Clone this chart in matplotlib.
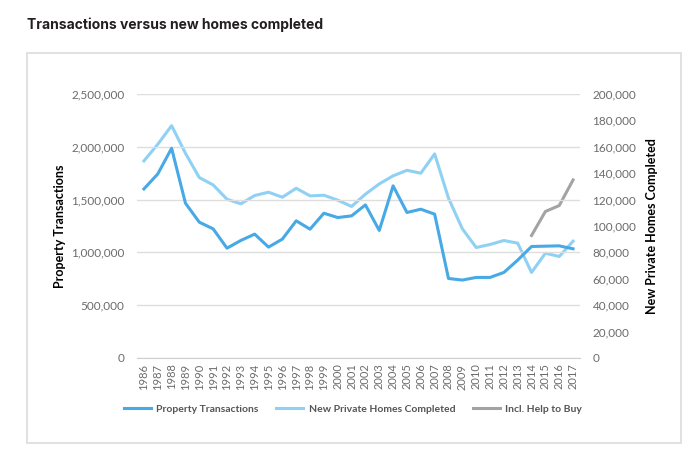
import numpy as np
import matplotlib.pyplot as plt
from matplotlib.patches import Rectangle
from matplotlib.ticker import FuncFormatter, MultipleLocator

plt.rcParams['font.family'] = ['Lato', 'DejaVu Sans']

# ------------------------------ data ------------------------------
years = [str(y) for y in range(1986, 2018)]

transactions = [1601000, 1743000, 1986000, 1466000, 1286000, 1223000, 1040000, 1113000,
                1173000, 1050000, 1126000, 1299000, 1220000, 1371000, 1330000, 1346000,
                1450000, 1208000, 1630000, 1378000, 1409000, 1362000, 753000, 738000,
                763000, 763000, 810000, 927000, 1056000, 1059000, 1062000, 1034000]

new_homes = [149300, 161900, 176000, 155100, 136700, 131100, 120300, 116800,
             123100, 125600, 121800, 128600, 122800, 123300, 119600, 114800,
             124100, 131900, 138000, 142200, 140000, 154600, 121100, 97900,
             83700, 86000, 89000, 87000, 64800, 79400, 76900, 88500]

help_years = ['2014', '2015', '2016', '2017']
help_to_buy = [92800, 111000, 115500, 134900]

c_trans = '#47a9e6'
c_homes = '#8fd1f4'
c_help = '#a3a3a3'
c_tick = '#6b6b6b'

# ------------------------------ plot ------------------------------
fig = plt.figure(figsize=(7.0, 4.67), dpi=100)

# outer chart frame
fig.patches.append(Rectangle((27 / 700, 1 - 443 / 467), 654 / 700, 390 / 467,
                             transform=fig.transFigure, fill=False,
                             edgecolor='#dcdcdc', linewidth=1.2))

fig.text(27 / 700, 1 - 25 / 467, 'Transactions versus new homes completed',
         fontsize=10, fontweight='bold', color='#231f20', va='center', ha='left',
         family=['Inter', 'DejaVu Sans'])

ax = fig.add_axes([137 / 700, 1 - 358 / 467, 443 / 700, 264 / 467])
ax2 = ax.twinx()

x = np.arange(len(years))
xh = np.array([years.index(y) for y in help_years])

l1, = ax.plot(x, transactions, color=c_trans, lw=2.2, label='Property Transactions')
l2, = ax2.plot(x, new_homes, color=c_homes, lw=2.2, label='New Private Homes Completed')
l3, = ax2.plot(xh, help_to_buy, color=c_help, lw=2.2, label='Incl. Help to Buy')
ax.set_zorder(ax2.get_zorder() + 1)
ax.patch.set_visible(False)

ax.set_xlim(-0.5, len(years) - 0.5)
ax.set_ylim(0, 2500000)
ax2.set_ylim(0, 200000)
ax.yaxis.set_major_locator(MultipleLocator(500000))
ax2.yaxis.set_major_locator(MultipleLocator(20000))
fmt = FuncFormatter(lambda v, p: f'{int(v):,}')
ax.yaxis.set_major_formatter(fmt)
ax2.yaxis.set_major_formatter(fmt)

ax.set_xticks(x)
ax.set_xticklabels(years, rotation=90)

ax.grid(axis='y', color='#dedede', lw=1)
ax.set_axisbelow(True)
for a in (ax, ax2):
    for s in a.spines.values():
        s.set_visible(False)
    a.tick_params(length=0, colors=c_tick, labelsize=8.5)
ax.spines['bottom'].set_visible(True)
ax.spines['bottom'].set_color('#d0d0d0')
ax.tick_params(axis='x', labelsize=8, pad=4)
ax.tick_params(axis='y', pad=9)
ax2.tick_params(axis='y', pad=9)

ax.set_ylabel('Property Transactions', fontsize=9, fontweight='bold', color='black', labelpad=4)
ax2.set_ylabel('New Private Homes Completed', fontsize=9, fontweight='bold', color='black',
               rotation=90, labelpad=7)

fig.legend(handles=[l1, l2, l3], loc='center', bbox_to_anchor=(353 / 700, 1 - 409 / 467),
           ncol=3, frameon=False, prop={'size': 7.5, 'weight': 'bold'}, labelcolor='#555555',
           handlelength=2.6, columnspacing=1.7, handletextpad=0.5)

fig.savefig('out.png', dpi=100)
